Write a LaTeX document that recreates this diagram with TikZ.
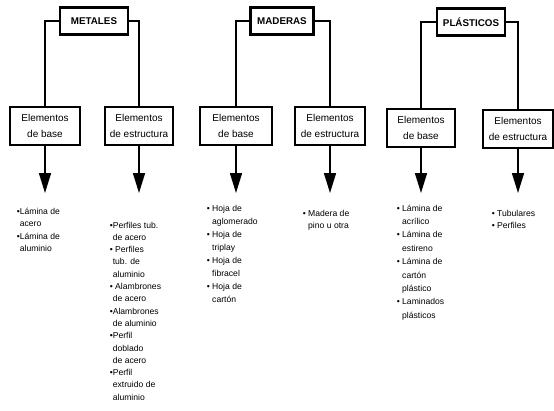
\documentclass[tikz,border=0pt]{standalone}
\usepackage{fontspec}
\setmainfont{Liberation Sans}
\usetikzlibrary{positioning}
\usetikzlibrary{arrows.meta}

\newcommand{\hang}{\phantom{•}}

\begin{document}
\begin{tikzpicture}[x=1pt,y=-1pt,line width=1.6pt,
	group node/.style={draw,line width=2.8pt,font=\bfseries\fontsize{9.8}{12}\selectfont,minimum height=27pt,inner sep=3pt},
	elem node/.style={draw,line width=1.6pt,align=center,font=\fontsize{10}{16}\selectfont,minimum height=38pt,inner sep=1pt},
	list node/.style={anchor=north west,align=left,inner sep=0pt,font=\fontsize{8.6}{12.5}\selectfont},
	down/.style={-{Triangle[length=20pt,width=12pt]},line width=1.6pt}]
	
	\useasboundingbox (0,0) rectangle (554,410);
	
	% grupos
	\node[group node,minimum width=68pt] (met) at (94,21) {METALES};
	\node[group node,minimum width=63pt] (mad) at (282,21) {MADERAS};
	\node[group node,minimum width=68pt] (pla) at (471,22) {PLÁSTICOS};
	
	% elementos
	\node[elem node,minimum width=70pt] (metb) at (45,126) {Elementos\\de base};
	\node[elem node,minimum width=68pt] (mete) at (139,126) {Elementos\\de estructura};
	\node[elem node,minimum width=72pt] (madb) at (236,126) {Elementos\\de base};
	\node[elem node,minimum width=70pt] (made) at (330,126) {Elementos\\de estructura};
	\node[elem node,minimum width=68pt] (plab) at (421,128) {Elementos\\de base};
	\node[elem node,minimum width=70pt] (plae) at (518,129) {Elementos\\de estructura};
	
	\draw (met.west) -| (metb.north);
	\draw (met.east) -| (mete.north);
	\draw (mad.west) -| (madb.north);
	\draw (mad.east) -| (made.north);
	\draw (pla.west) -| (plab.north);
	\draw (pla.east) -| (plae.north);
	
	% flechas
	\foreach \n in {metb,mete,madb,made,plab,plae}{
		\coordinate (\n end) at (\n.center |- 0,193);
		\draw[down] (\n.south) -- (\n end);
	}
	
	% listas
	\node[list node] (metbl) at (16,207) {•Lámina de\\\hang acero\\•Lámina de\\\hang aluminio};
	\node[list node,font=\fontsize{8.6}{12.3}\selectfont] (metel) at (109,221) {•Perfiles tub.\\\hang de acero\\• Perfiles\\\hang tub. de\\\hang aluminio\\• Alambrones\\\hang de acero\\•Alambrones\\\hang de aluminio\\•Perfil\\\hang doblado\\\hang de acero\\•Perfil\\\hang extruido de\\\hang aluminio};
	\node[list node,font=\fontsize{8.6}{13}\selectfont] (madbl) at (206,204) {• Hoja de\\\hang\ aglomerado\\• Hoja de\\\hang\ triplay\\• Hoja de\\\hang\ fibracel\\• Hoja de\\\hang\ cartón};
	\node[list node] (madel) at (302,209) {• Madera de\\\hang\ pino u otra};
	\node[list node,font=\fontsize{8.6}{13.4}\selectfont] (plabl) at (396,204) {• Lámina de\\\hang\ acrílico\\• Lámina de\\\hang\ estireno\\• Lámina de\\\hang\ cartón\\\hang\ plástico\\• Laminados\\\hang\ plásticos};
	\node[list node] (plael) at (491,209) {• Tubulares\\• Perfiles};
\end{tikzpicture}
\end{document}
